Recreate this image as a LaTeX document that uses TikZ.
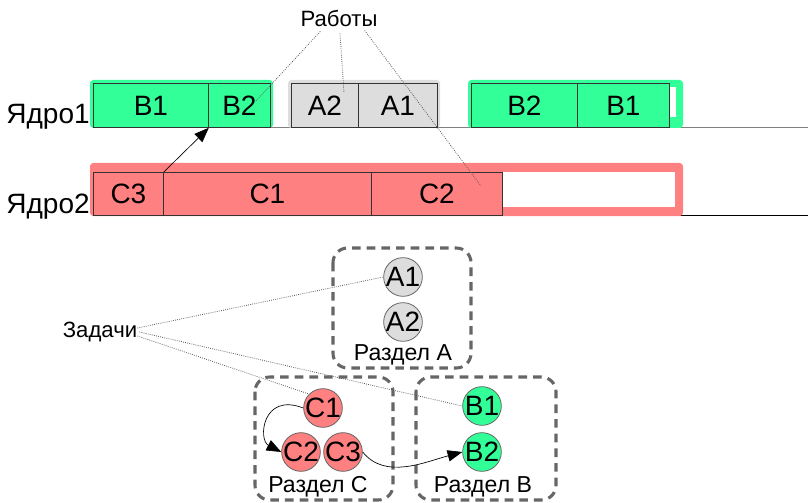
\documentclass[tikz,border=0pt]{standalone}
\usepackage{fontspec}
\setmainfont{Liberation Sans}
\usetikzlibrary{arrows.meta,calc}
\definecolor{jobgreen}{HTML}{33FF99}
\definecolor{jobred}{HTML}{FF8080}
\definecolor{jobgray}{HTML}{DDDDDD}
\definecolor{boxgray}{HTML}{666666}
\definecolor{celledge}{HTML}{333333}
% task labels are wider than their circle allows, so their width is not counted
\newcommand\tasklbl[1]{\makebox[0pt]{#1}}
\tikzset{
  lane/.style={rounded corners=2.5, draw=none},
  cell/.style={draw=celledge, line width=0.6pt, minimum height=33pt, inner sep=0,
    font=\fontsize{21}{21}\selectfont, anchor=north west},
  redcell/.style={cell, fill=jobred, minimum height=32.25pt},
  greencell/.style={cell, fill=jobgreen},
  graycell/.style={cell, fill=jobgray},
  corelabel/.style={font=\fontsize{21}{21}\selectfont, inner sep=0},
  note/.style={font=\fontsize{16.6}{16.6}\selectfont, inner sep=0},
  partname/.style={font=\fontsize{17.3}{17.3}\selectfont, inner sep=0},
  task/.style={circle, draw=boxgray, line width=0.6pt, minimum size=29pt, inner sep=0,
    font=\fontsize{21}{21}\selectfont},
  partition/.style={draw=boxgray, line width=2.3pt, dash pattern=on 6.5pt off 4.5pt,
    rounded corners=11pt},
  pointer/.style={densely dotted, gray!70!black, line width=0.6pt},
  flow/.style={-{Triangle[length=11pt,width=8.5pt]}, line width=0.5pt},
}
\begin{document}
\begin{tikzpicture}[x=0.75pt,y=-0.75pt]
\useasboundingbox (0,0) rectangle (808,503);

% core time lines
\draw[gray, line width=0.8pt] (93,127.5) -- (808,127.5);
\draw[black, line width=0.8pt] (93,215.5) -- (808,215.5);

% lane backgrounds
\fill[lane, jobgreen] (90,80) rectangle (273,128);
\fill[lane, jobgray] (288,80) rectangle (440,128);
\fill[lane, jobgreen] (468,80) rectangle (683,128);
\fill[white] (670,87) rectangle (676,117);
\fill[lane, jobred] (90,163) rectangle (683,216);
\fill[white] (502,172) rectangle (675,207);

% core 1 jobs
\node[greencell, minimum width=86.25pt] (b1a) at (93,83) {B1};
\node[greencell, minimum width=46.5pt] (b2a) at (208,83) {B2};
\node[graycell, minimum width=50.25pt] (a2) at (291,83) {A2};
\node[graycell, minimum width=59.25pt] (a1) at (358,83) {A1};
\node[greencell, minimum width=79.5pt] (b2b) at (471,83) {B2};
\node[greencell, minimum width=69pt] (b1b) at (577,83) {B1};

% core 2 jobs
\node[redcell, minimum width=52.5pt] (c3) at (93,172) {C3};
\node[redcell, minimum width=156pt] (c1) at (163,172) {C1};
\node[redcell, minimum width=98.25pt] (c2) at (371,172) {C2};

% core labels
\node[corelabel, anchor=east] (core1) at (90,117) {Ядро1};
\node[corelabel, anchor=east] (core2) at (90,207) {Ядро2};

% dependency between jobs
\draw[flow] (c3.north east) -- (b1a.south east);

% jobs annotation
\node[note] (jobs) at (339,18) {Работы};
\coordinate (jb2) at (255,102);
\coordinate (ja2) at (344,93);
\coordinate (jc2) at (481,186);
\draw[pointer] ($(jobs.south west)+(20,5)$) -- (jb2);
\draw[pointer] ($(jobs.south)+(1,7)$) -- (ja2);
\draw[pointer] ($(jobs.south east)+(-13,4)$) -- (jc2);

% partitions
\draw[partition] (333,248) rectangle (471,368);
\draw[partition] (255,377) rectangle (393,500);
\draw[partition] (416,377) rectangle (556,500);

% tasks
\node[task, fill=jobgray] (ta1) at (403,277) {\tasklbl{A1}};
\node[task, fill=jobgray] (ta2) at (403,322) {\tasklbl{A2}};
\node[task, fill=jobred] (tc1) at (323,408) {\tasklbl{C1}};
\node[task, fill=jobred] (tc2) at (301,452) {\tasklbl{C2}};
\node[task, fill=jobred] (tc3) at (343,452) {\tasklbl{C3}};
\node[task, fill=jobgreen] (tb1) at (482,406) {\tasklbl{B1}};
\node[task, fill=jobgreen] (tb2) at (482,452) {\tasklbl{B2}};

% partition names
\node[partname] (pa) at (403,355) {Раздел A};
\node[partname] (pc) at (318,487) {Раздел C};
\node[partname] (pb) at (483,487) {Раздел B};

% tasks annotation
\node[note] (tasks) at (100,332) {Задачи};
\draw[pointer] ($(tasks.east)+(0,-4)$) -- (ta1.west);
\draw[pointer] ($(tasks.east)+(0,4)$) -- (tc1.north west);
\draw[pointer] ($(tasks.east)+(2,0)$) -- (tb1.west);

% task dependencies
\draw[flow] (tc1.west) .. controls (262,392) and (258,440) .. (tc2.west);
\draw[flow] (tc3.east) .. controls (385,480) and (425,462) .. (tb2.west);
\end{tikzpicture}
\end{document}
